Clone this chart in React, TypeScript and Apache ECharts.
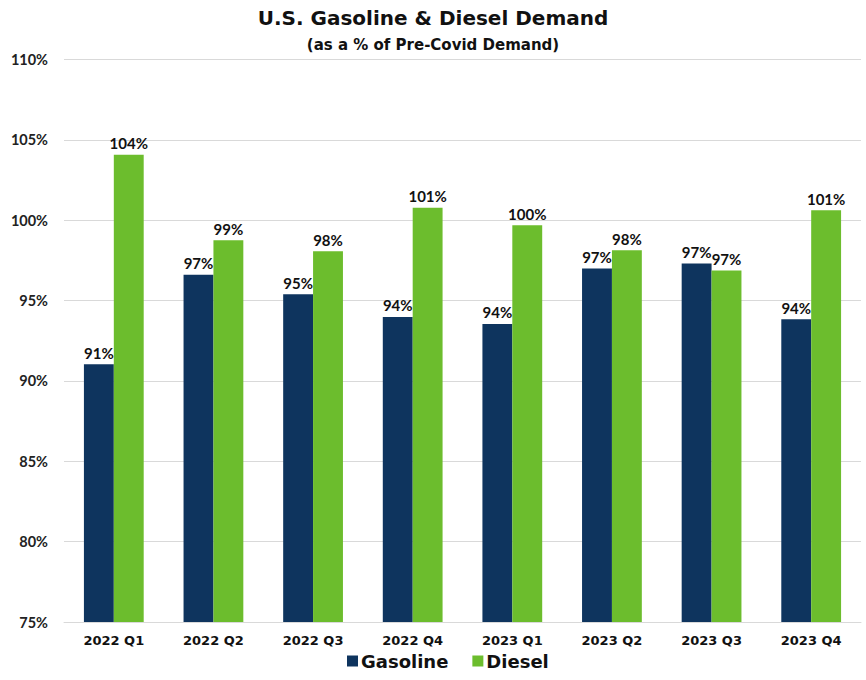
import React, { useEffect, useRef } from "react";
import * as echarts from "echarts";

const categories = ["2022 Q1", "2022 Q2", "2022 Q3", "2022 Q4", "2023 Q1", "2023 Q2", "2023 Q3", "2023 Q4"];
const gasoline = [91.04, 96.6, 95.4, 93.98, 93.55, 96.99, 97.3, 93.84];
const diesel = [104.07, 98.76, 98.07, 100.77, 99.69, 98.13, 96.87, 100.62];
const yTicks = { min: 75, max: 110, interval: 5 };

const FONT = "Lato";
const WIDE = "DejaVu Sans";

export default function App() {
  const ref = useRef<HTMLDivElement>(null);
  useEffect(() => {
    document.body.style.margin = "0";
    const chart = echarts.init(ref.current!, undefined, { renderer: "svg" });
    const label = {
      show: true,
      position: "top",
      distance: 4,
      formatter: (p: any) => Math.round(p.value) + "%",
      fontFamily: FONT,
      fontWeight: "bold",
      fontSize: 15,
      color: "#111",
    };
    chart.setOption({
      animation: false,
      backgroundColor: "#fff",
      title: [
        {
          text: "U.S. Gasoline & Diesel Demand",
          left: "center",
          top: 3,
          textStyle: { fontFamily: WIDE, fontWeight: "bold", fontSize: 20, color: "#111" },
        },
        {
          text: "(as a % of Pre-Covid Demand)",
          left: "center",
          top: 32,
          textStyle: { fontFamily: WIDE, fontWeight: "bold", fontSize: 15, color: "#111" },
        },
      ],
      legend: {
        bottom: 5,
        left: 342,
        itemWidth: 11,
        itemHeight: 11,
        itemGap: 24,
        icon: "rect",
        textStyle: { fontFamily: WIDE, fontWeight: "bold", fontSize: 18, color: "#111", padding: [0, 0, 0, -2] },
        data: ["Gasoline", "Diesel"],
      },
      grid: { left: 64, right: 5, top: 59.5, bottom: 58 },
      xAxis: {
        type: "category",
        data: categories,
        axisLine: { lineStyle: { color: "#d9d9d9" } },
        axisTick: { show: false },
        axisLabel: { fontFamily: WIDE, fontWeight: "bold", fontSize: 13, color: "#111", margin: 12 },
      },
      yAxis: {
        type: "value",
        min: yTicks.min,
        max: yTicks.max,
        interval: yTicks.interval,
        axisLine: { show: false },
        axisTick: { show: false },
        splitLine: { lineStyle: { color: "#d9d9d9", width: 1 } },
        axisLabel: {
          formatter: (v: number) => v + "%",
          fontFamily: FONT,
          fontWeight: "bold",
          fontSize: 14.5,
          color: "#222",
          margin: 16,
        },
      },
      series: [
        {
          name: "Gasoline",
          type: "bar",
          data: gasoline,
          barWidth: "30%",
          barGap: "0%",
          itemStyle: { color: "#0e345e" },
          label,
        },
        {
          name: "Diesel",
          type: "bar",
          data: diesel,
          barWidth: "30%",
          itemStyle: { color: "#6cbd2d" },
          label,
        },
      ],
    });
    return () => chart.dispose();
  }, []);
  return <div ref={ref} style={{ width: 866, height: 680 }} />;
}
